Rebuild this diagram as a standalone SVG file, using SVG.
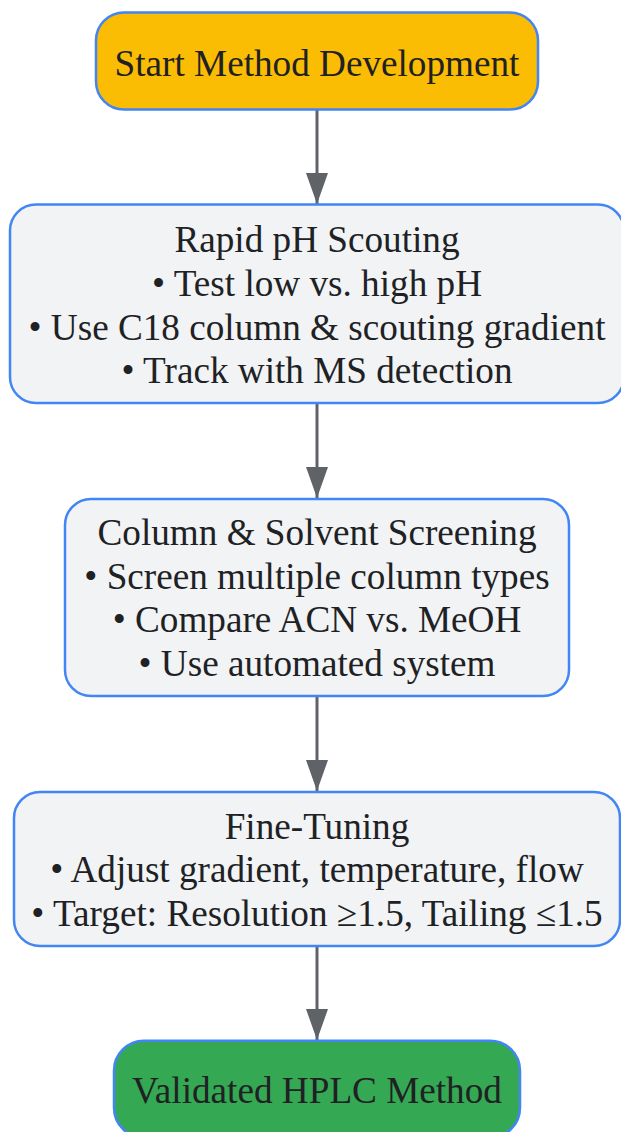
<svg xmlns="http://www.w3.org/2000/svg" width="621" height="1132" viewBox="0 0 621 1132">
<defs>
<style>
.n rect{stroke:#4285f4;stroke-width:2.5}
.box{fill:#f1f3f4}
.t{font-family:"Liberation Serif","Times New Roman",serif;font-size:37.2px;fill:#202124;text-anchor:middle}
.e{stroke:#5f6368;stroke-width:3;fill:none;marker-end:url(#ah)}
</style>
<marker id="ah" markerUnits="userSpaceOnUse" viewBox="0 0 31 22" markerWidth="31" markerHeight="22" refX="31" refY="11" orient="auto">
<path d="M0,0 L31,11 L0,22 z" fill="#5f6368"/>
</marker>
</defs>
<rect width="621" height="1132" fill="#ffffff"/>
<g id="connectors">
<line class="e" x1="317" y1="110" x2="317" y2="204"/>
<line class="e" x1="317" y1="404" x2="317" y2="498"/>
<line class="e" x1="317" y1="697" x2="317" y2="791"/>
<line class="e" x1="317" y1="947" x2="317" y2="1040"/>
</g>
<g id="start" class="n">
<rect x="96" y="12.5" width="442" height="97" rx="28" fill="#fbbc04"/>
<text class="t" x="317" y="75.5">Start Method Development</text>
</g>
<g id="scouting" class="n">
<rect class="box" x="10" y="204.5" width="614" height="198.5" rx="26"/>
<text class="t" x="317" y="252.3">Rapid pH Scouting</text>
<text class="t" x="317" y="296">• Test low vs. high pH</text>
<text class="t" x="317" y="339.5">• Use C18 column &amp; scouting gradient</text>
<text class="t" x="317" y="383">• Track with MS detection</text>
</g>
<g id="screening" class="n">
<rect class="box" x="65" y="499" width="504" height="197" rx="26"/>
<text class="t" x="317" y="545">Column &amp; Solvent Screening</text>
<text class="t" x="317" y="588.5">• Screen multiple column types</text>
<text class="t" x="317" y="632.2">• Compare ACN vs. MeOH</text>
<text class="t" x="317" y="675.8">• Use automated system</text>
</g>
<g id="finetuning" class="n">
<rect class="box" x="14" y="792" width="606" height="154" rx="26"/>
<text class="t" x="317" y="838.5">Fine-Tuning</text>
<text class="t" x="317" y="882">• Adjust gradient, temperature, flow</text>
<text class="t" x="317" y="925.6">• Target: Resolution ≥1.5, Tailing ≤1.5</text>
</g>
<g id="validated" class="n">
<rect x="114" y="1040.7" width="406" height="97" rx="30" fill="#34a853"/>
<text class="t" x="317" y="1102.7">Validated HPLC Method</text>
</g>
</svg>
